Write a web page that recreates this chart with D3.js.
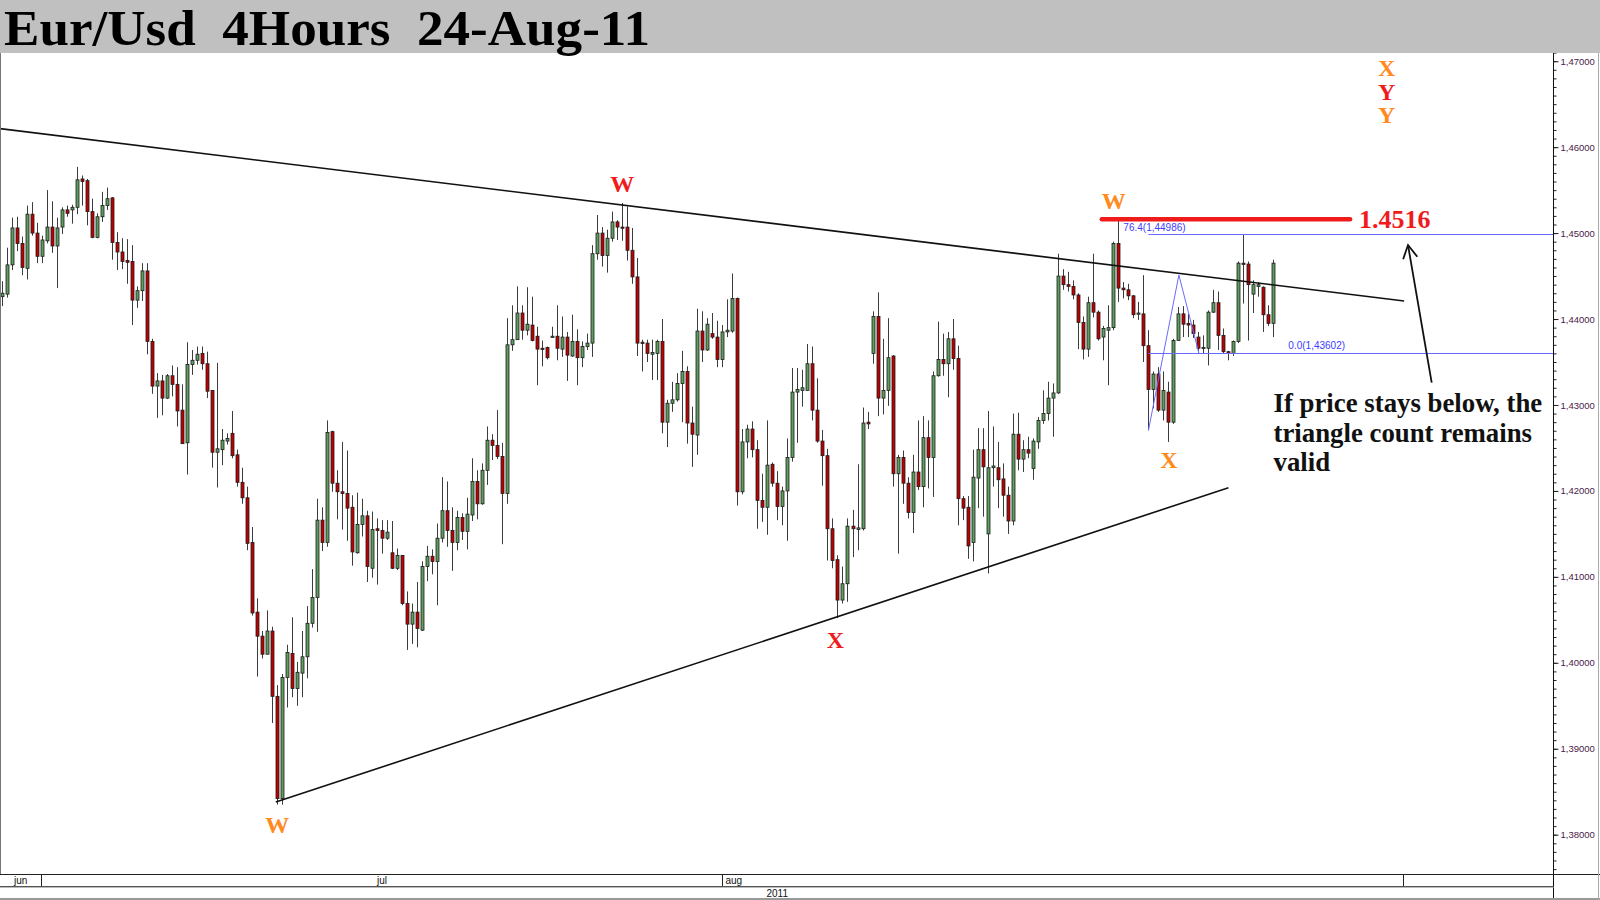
<!DOCTYPE html>
<html><head><meta charset="utf-8">
<script src="https://cdn.jsdelivr.net/npm/d3@7"></script>
<style>
html,body{margin:0;padding:0;background:#fff;}
svg{display:block;}
</style></head>
<body>
<svg id="chart" width="1600" height="900"></svg>
<script>
// ---------------- DATA (EUR/USD 4h) ----------------
const opens = [1.4426,1.4429,1.4463,1.4506,1.4488,1.4459,1.4522,1.4500,1.4473,1.4491,
1.4507,1.4485,1.4507,1.4527,1.4527,1.4530,1.4563,1.4561,1.4525,1.4495,
1.4519,1.4532,1.4541,1.4489,1.4478,1.4468,1.4467,1.4422,1.4433,1.4456,
1.4374,1.4322,1.4328,1.4308,1.4334,1.4324,1.4294,1.4256,1.4347,1.4352,
1.4360,1.4348,1.4317,1.4245,1.4248,1.4258,1.4267,1.4242,1.4210,1.4192,
1.4140,1.4059,1.4031,1.4010,1.4037,1.3961,1.3842,1.3983,1.4011,1.3970,
1.3988,1.4007,1.4046,1.4076,1.4166,1.4140,1.4269,1.4209,1.4199,1.4197,
1.4181,1.4128,1.4161,1.4171,1.4110,1.4156,1.4154,1.4145,1.4128,1.4110,
1.4125,1.4069,1.4045,1.4059,1.4038,1.4112,1.4124,1.4118,1.4145,1.4177,
1.4154,1.4140,1.4169,1.4153,1.4172,1.4211,1.4185,1.4224,1.4259,1.4253,
1.4240,1.4197,1.4370,1.4376,1.4407,1.4387,1.4393,1.4380,1.4366,1.4367,
1.4379,1.4380,1.4365,1.4379,1.4357,1.4374,1.4355,1.4368,1.4372,1.4476,
1.4500,1.4474,1.4494,1.4513,1.4507,1.4507,1.4480,1.4449,1.4373,1.4372,
1.4359,1.4360,1.4374,1.4280,1.4302,1.4306,1.4325,1.4339,1.4279,1.4265,
1.4386,1.4364,1.4383,1.4379,1.4353,1.4385,1.4386,1.4424,1.4199,1.4257,
1.4272,1.4248,1.4189,1.4181,1.4231,1.4209,1.4182,1.4200,1.4239,1.4315,
1.4317,1.4317,1.4348,1.4294,1.4258,1.4241,1.4156,1.4120,1.4073,1.4092,
1.4159,1.4155,1.4156,1.4280,1.4360,1.4403,1.4308,1.4317,1.4357,1.4220,
1.4239,1.4209,1.4175,1.4222,1.4205,1.4262,1.4239,1.4334,1.4353,1.4348,
1.4377,1.4354,1.4191,1.4181,1.4140,1.4215,1.4248,1.4150,1.4227,1.4227,
1.4214,1.4195,1.4165,1.4266,1.4237,1.4248,1.4226,1.4257,1.4282,1.4290,
1.4308,1.4314,1.4450,1.4440,1.4438,1.4428,1.4396,1.4365,1.4419,1.4408,
1.4379,1.4387,1.4390,1.4488,1.4436,1.4434,1.4427,1.4406,1.4406,1.4369,
1.4318,1.4336,1.4294,1.4315,1.4280,1.4375,1.4406,1.4395,1.4393,1.4379,
1.4366,1.4366,1.4408,1.4419,1.4381,1.4362,1.4360,1.4374,1.4465,1.4464,
1.4429,1.4438,1.4437,1.4405,1.4395];
const highs = [1.4444,1.4483,1.4518,1.4519,1.4496,1.4532,1.4536,1.4512,1.4497,1.4550,
1.4537,1.4518,1.4530,1.4532,1.4533,1.4577,1.4567,1.4563,1.4540,1.4523,
1.4548,1.4553,1.4542,1.4501,1.4494,1.4493,1.4486,1.4438,1.4465,1.4465,
1.4377,1.4337,1.4335,1.4336,1.4346,1.4344,1.4324,1.4373,1.4364,1.4368,
1.4368,1.4362,1.4317,1.4349,1.4272,1.4267,1.4293,1.4248,1.4227,1.4205,
1.4158,1.4075,1.4037,1.4061,1.4042,1.3974,1.3987,1.4021,1.4053,1.4001,
1.4037,1.4066,1.4109,1.4191,1.4181,1.4282,1.4270,1.4224,1.4257,1.4247,
1.4195,1.4198,1.4191,1.4177,1.4176,1.4168,1.4166,1.4166,1.4165,1.4133,
1.4125,1.4083,1.4069,1.4094,1.4118,1.4136,1.4132,1.4162,1.4216,1.4211,
1.4181,1.4177,1.4174,1.4192,1.4238,1.4224,1.4232,1.4275,1.4266,1.4294,
1.4256,1.4401,1.4416,1.4438,1.4416,1.4437,1.4426,1.4391,1.4375,1.4368,
1.4391,1.4416,1.4403,1.4385,1.4405,1.4388,1.4374,1.4383,1.4486,1.4521,
1.4507,1.4504,1.4525,1.4515,1.4535,1.4531,1.4506,1.4471,1.4376,1.4376,
1.4376,1.4376,1.4400,1.4306,1.4327,1.4337,1.4363,1.4345,1.4298,1.4412,
1.4409,1.4401,1.4407,1.4398,1.4393,1.4423,1.4453,1.4425,1.4272,1.4277,
1.4281,1.4259,1.4220,1.4282,1.4233,1.4223,1.4205,1.4261,1.4343,1.4343,
1.4341,1.4371,1.4368,1.4331,1.4271,1.4249,1.4168,1.4125,1.4112,1.4168,
1.4178,1.4231,1.4297,1.4292,1.4409,1.4431,1.4377,1.4401,1.4358,1.4242,
1.4247,1.4216,1.4242,1.4282,1.4287,1.4282,1.4339,1.4397,1.4383,1.4385,
1.4400,1.4369,1.4194,1.4194,1.4248,1.4273,1.4273,1.4293,1.4275,1.4257,
1.4232,1.4205,1.4290,1.4291,1.4259,1.4263,1.4261,1.4286,1.4317,1.4327,
1.4325,1.4476,1.4458,1.4455,1.4445,1.4430,1.4403,1.4426,1.4476,1.4410,
1.4392,1.4416,1.4490,1.4515,1.4443,1.4441,1.4428,1.4420,1.4451,1.4387,
1.4339,1.4344,1.4339,1.4327,1.4377,1.4414,1.4415,1.4406,1.4399,1.4385,
1.4381,1.4410,1.4434,1.4432,1.4389,1.4363,1.4375,1.4467,1.4499,1.4467,
1.4445,1.4443,1.4438,1.4416,1.4469];
const lows = [1.4415,1.4425,1.4457,1.4479,1.4451,1.4446,1.4497,1.4465,1.4465,1.4488,
1.4477,1.4436,1.4499,1.4519,1.4511,1.4522,1.4532,1.4509,1.4494,1.4494,
1.4513,1.4527,1.4469,1.4457,1.4458,1.4441,1.4393,1.4413,1.4421,1.4359,
1.4313,1.4285,1.4288,1.4307,1.4310,1.4275,1.4255,1.4219,1.4335,1.4347,
1.4341,1.4308,1.4227,1.4204,1.4230,1.4254,1.4238,1.4205,1.4185,1.4131,
1.4055,1.3984,1.4005,1.4010,1.3930,1.3835,1.3835,1.3948,1.3960,1.3950,
1.3960,1.3982,1.4041,1.4036,1.4130,1.4135,1.4199,1.4167,1.4155,1.4142,
1.4113,1.4127,1.4147,1.4094,1.4099,1.4091,1.4127,1.4143,1.4109,1.4108,
1.4067,1.4015,1.4022,1.4018,1.4037,1.4095,1.4103,1.4067,1.4140,1.4135,
1.4107,1.4131,1.4143,1.4132,1.4165,1.4167,1.4184,1.4207,1.4236,1.4237,
1.4138,1.4185,1.4363,1.4376,1.4376,1.4381,1.4374,1.4323,1.4345,1.4353,
1.4379,1.4352,1.4356,1.4328,1.4356,1.4323,1.4344,1.4364,1.4356,1.4469,
1.4461,1.4454,1.4490,1.4492,1.4491,1.4468,1.4441,1.4357,1.4339,1.4350,
1.4329,1.4329,1.4267,1.4251,1.4292,1.4304,1.4280,1.4255,1.4228,1.4242,
1.4350,1.4363,1.4377,1.4344,1.4344,1.4379,1.4384,1.4183,1.4196,1.4238,
1.4239,1.4156,1.4164,1.4149,1.4205,1.4166,1.4160,1.4142,1.4234,1.4256,
1.4298,1.4317,1.4282,1.4256,1.4206,1.4119,1.4110,1.4052,1.4069,1.4071,
1.4123,1.4131,1.4154,1.4272,1.4348,1.4287,1.4289,1.4299,1.4205,1.4127,
1.4185,1.4168,1.4151,1.4201,1.4181,1.4203,1.4193,1.4333,1.4334,1.4309,
1.4341,1.4160,1.4166,1.4121,1.4118,1.4180,1.4170,1.4104,1.4205,1.4180,
1.4170,1.4150,1.4160,1.4224,1.4222,1.4238,1.4213,1.4249,1.4278,1.4282,
1.4263,1.4313,1.4434,1.4432,1.4423,1.4365,1.4353,1.4356,1.4402,1.4375,
1.4352,1.4323,1.4387,1.4420,1.4424,1.4422,1.4401,1.4399,1.4350,1.4272,
1.4296,1.4292,1.4282,1.4257,1.4278,1.4375,1.4379,1.4379,1.4378,1.4361,
1.4360,1.4346,1.4407,1.4364,1.4360,1.4352,1.4357,1.4372,1.4418,1.4375,
1.4407,1.4426,1.4385,1.4392,1.4379];
const closes = [1.4430,1.4463,1.4506,1.4488,1.4460,1.4522,1.4500,1.4473,1.4492,1.4507,
1.4485,1.4506,1.4527,1.4523,1.4530,1.4562,1.4560,1.4525,1.4495,1.4519,
1.4532,1.4540,1.4489,1.4478,1.4467,1.4466,1.4422,1.4433,1.4456,1.4374,
1.4322,1.4328,1.4308,1.4334,1.4324,1.4293,1.4255,1.4347,1.4352,1.4359,
1.4348,1.4316,1.4245,1.4249,1.4259,1.4261,1.4241,1.4210,1.4192,1.4139,
1.4058,1.4031,1.4010,1.4037,1.3961,1.3842,1.3983,1.4012,1.3970,1.3989,
1.4007,1.4046,1.4076,1.4166,1.4140,1.4268,1.4209,1.4199,1.4197,1.4180,
1.4129,1.4161,1.4171,1.4112,1.4155,1.4154,1.4145,1.4152,1.4110,1.4125,
1.4069,1.4045,1.4059,1.4040,1.4112,1.4124,1.4118,1.4145,1.4177,1.4154,
1.4140,1.4169,1.4153,1.4173,1.4211,1.4185,1.4224,1.4259,1.4253,1.4240,
1.4197,1.4370,1.4376,1.4407,1.4387,1.4394,1.4375,1.4365,1.4365,1.4355,
1.4380,1.4366,1.4379,1.4358,1.4374,1.4355,1.4368,1.4372,1.4476,1.4500,
1.4474,1.4494,1.4513,1.4507,1.4506,1.4480,1.4449,1.4372,1.4372,1.4360,
1.4361,1.4374,1.4280,1.4302,1.4306,1.4325,1.4339,1.4279,1.4266,1.4386,
1.4364,1.4394,1.4379,1.4353,1.4385,1.4387,1.4424,1.4199,1.4257,1.4272,
1.4248,1.4189,1.4181,1.4230,1.4209,1.4182,1.4200,1.4239,1.4315,1.4318,
1.4320,1.4348,1.4294,1.4258,1.4241,1.4156,1.4119,1.4073,1.4092,1.4159,
1.4156,1.4157,1.4279,1.4278,1.4403,1.4308,1.4317,1.4355,1.4220,1.4239,
1.4209,1.4175,1.4222,1.4205,1.4262,1.4239,1.4334,1.4353,1.4348,1.4377,
1.4354,1.4191,1.4180,1.4136,1.4216,1.4248,1.4228,1.4227,1.4229,1.4213,
1.4195,1.4165,1.4266,1.4237,1.4248,1.4244,1.4258,1.4282,1.4290,1.4308,
1.4314,1.4450,1.4440,1.4438,1.4428,1.4396,1.4365,1.4419,1.4408,1.4377,
1.4389,1.4390,1.4488,1.4436,1.4434,1.4427,1.4405,1.4407,1.4369,1.4318,
1.4336,1.4294,1.4317,1.4280,1.4375,1.4406,1.4394,1.4393,1.4383,1.4366,
1.4367,1.4408,1.4419,1.4381,1.4362,1.4360,1.4374,1.4465,1.4464,1.4440,
1.4440,1.4440,1.4405,1.4395,1.4465];

const title = "Eur/Usd  4Hours  24-Aug-11";
const priceTicks = [1.38,1.39,1.40,1.41,1.42,1.43,1.44,1.45,1.46,1.47];
const monthLabels = ["jun","jul","aug"];
const monthStarts = [0, 8, 144];     // bar index where each month begins
const nextMonthStart = 280;          // (sep) beyond last bar
const yearLabel = "2011";

// trendlines: [barIndex, price]
const upperTrend = [[-0.3, 1.46216],[280.2, 1.44210]];
const lowerTrend = [[54.8, 1.38380],[245.1, 1.42037]];
// blue zigzag (fibonacci tool)
const fibZigzag = [[229.1, 1.42700],[235.2, 1.44512],[239.2, 1.43602]];
const fibLevels = [{lvl:"76.4", price:1.44986, from:229.1},{lvl:"0.0", price:1.43602, from:229.1}];
// red target line
const targetPrice = 1.4516, targetFrom = 219.8, targetTo = 269.4;
// wave labels: text, bar index, baseline price, colour
const waveLabels = [
  {t:"W", i:55.1,  p:1.38025, c:"orange"},
  {t:"W", i:124.0, p:1.45481, c:"red"},
  {t:"X", i:166.6, p:1.40172, c:"red"},
  {t:"W", i:222.2, p:1.45280, c:"orange"},
  {t:"X", i:233.2, p:1.42267, c:"orange"},
  {t:"X", i:276.7, p:1.46823, c:"orange"},
  {t:"Y", i:276.7, p:1.46551, c:"red"},
  {t:"Y", i:276.7, p:1.46277, c:"orange"}
];
const noteLines = ["If price stays below, the","triangle count remains","valid"];
const noteAnchor = [254.1, 1.42918];
const arrowPts = [[285.7, 1.43259],[280.97, 1.44861]];

// ---------------- LAYOUT ----------------
const W = 1600, H = 900;
const titleH = 53, plotBottom = 874, axisX = 1553.5;
const COL = {up:"#5e9e5e", down:"#c00000", edge:"#1c1c1c", wick:"#3c3c3c",
  red:"#f01c1c", orange:"#ff8a1e", blue:"#6a6aff", blueText:"#3c3cff", axisText:"#4a1a4a"};

const svg = d3.select("#chart");
const x = d3.scaleLinear().domain([0, 254]).range([1.5, 1273]);
const y = d3.scaleLinear().domain([1.38, 1.47]).range([834.7, 61.2]);

svg.append("rect").attr("width",W).attr("height",H).attr("fill","#fff");

// clip for plot
svg.append("defs").append("clipPath").attr("id","plotclip")
  .append("rect").attr("x",0).attr("y",titleH).attr("width",axisX).attr("height",plotBottom-titleH);
const plot = svg.append("g").attr("clip-path","url(#plotclip)");

// candles
const bars = d3.range(opens.length).map(i => ({i, o:opens[i], h:highs[i], l:lows[i], c:closes[i]}));
const cg = plot.append("g");
cg.selectAll("line.wick").data(bars).join("line")
  .attr("x1", d => Math.round(x(d.i))+0.5).attr("x2", d => Math.round(x(d.i))+0.5)
  .attr("y1", d => y(d.h)).attr("y2", d => y(d.l))
  .attr("stroke", COL.wick).attr("stroke-width",1);
cg.selectAll("rect.body").data(bars).join("rect")
  .attr("x", d => Math.round(x(d.i))-1)
  .attr("width", 3)
  .attr("y", d => y(Math.max(d.o,d.c)))
  .attr("height", d => Math.max(1.2, Math.abs(y(d.o)-y(d.c))))
  .attr("fill", d => d.c >= d.o ? COL.up : COL.down)
  .attr("stroke", COL.edge).attr("stroke-width",0.8);

// trendlines
const line = d3.line().x(d => x(d[0])).y(d => y(d[1]));
plot.append("path").attr("d", line(upperTrend)).attr("stroke","#111").attr("stroke-width",1.6).attr("fill","none");
plot.append("path").attr("d", line(lowerTrend)).attr("stroke","#111").attr("stroke-width",1.6).attr("fill","none");

// fib
plot.append("path").attr("d", line(fibZigzag)).attr("stroke",COL.blue).attr("stroke-width",1).attr("fill","none");
fibLevels.forEach(f => {
  plot.append("line").attr("x1", x(f.from)).attr("x2", axisX)
    .attr("y1", Math.round(y(f.price))+0.5).attr("y2", Math.round(y(f.price))+0.5)
    .attr("stroke", COL.blue).attr("stroke-width",1);
});
const fmt5 = d3.formatLocale({decimal:",", thousands:".", grouping:[3], currency:["",""]}).format(".5f");
plot.append("text").attr("x", x(fibLevels[0].from)-25).attr("y", y(fibLevels[0].price)-3)
  .attr("font-family","Liberation Sans, Arial, sans-serif").attr("font-size",10).attr("fill",COL.blueText)
  .text(fibLevels[0].lvl + "(" + fmt5(fibLevels[0].price) + ")");
plot.append("text").attr("x", x(fibLevels[1].from)+140).attr("y", y(fibLevels[1].price)-4)
  .attr("font-family","Liberation Sans, Arial, sans-serif").attr("font-size",10).attr("fill",COL.blueText)
  .text(fibLevels[1].lvl + "(" + fmt5(fibLevels[1].price) + ")");

// target line
plot.append("line").attr("x1", x(targetFrom)).attr("x2", x(targetTo))
  .attr("y1", y(targetPrice)).attr("y2", y(targetPrice))
  .attr("stroke", COL.red).attr("stroke-width",4.5).attr("stroke-linecap","round");
plot.append("text").attr("x", x(targetTo)+9).attr("y", y(targetPrice)+9)
  .attr("font-family","Liberation Serif, Times New Roman, serif").attr("font-weight","bold")
  .attr("font-size",26).attr("fill",COL.red).text(d3.format(".4f")(targetPrice));

// wave labels
plot.selectAll("text.wave").data(waveLabels).join("text")
  .attr("x", d => x(d.i)).attr("y", d => y(d.p)).attr("text-anchor","middle")
  .attr("font-family","Liberation Serif, Times New Roman, serif").attr("font-weight","bold")
  .attr("font-size",24).attr("fill", d => d.c === "red" ? COL.red : COL.orange).text(d => d.t);

// note
const note = plot.append("text").attr("font-family","Liberation Serif, Times New Roman, serif")
  .attr("font-weight","bold").attr("font-size",26.8).attr("fill","#111");
noteLines.forEach((t,k) => note.append("tspan").attr("x", x(noteAnchor[0])).attr("y", y(noteAnchor[1]) + k*29.5).text(t));

// arrow
const a0 = [x(arrowPts[0][0]), y(arrowPts[0][1])], a1 = [x(arrowPts[1][0]), y(arrowPts[1][1])];
plot.append("line").attr("x1",a0[0]).attr("y1",a0[1]).attr("x2",a1[0]).attr("y2",a1[1])
  .attr("stroke","#111").attr("stroke-width",1.8);
{
  const dx = a1[0]-a0[0], dy = a1[1]-a0[1], L = Math.hypot(dx,dy), ux = dx/L, uy = dy/L;
  const hl = 15, ang = 0.5;
  const p1 = [a1[0] - hl*(ux*Math.cos(ang) - uy*Math.sin(ang)), a1[1] - hl*(uy*Math.cos(ang) + ux*Math.sin(ang))];
  const p2 = [a1[0] - hl*(ux*Math.cos(-ang) - uy*Math.sin(-ang)), a1[1] - hl*(uy*Math.cos(-ang) + ux*Math.sin(-ang))];
  plot.append("path").attr("d", `M${p1}L${a1}L${p2}`).attr("stroke","#111").attr("stroke-width",1.8).attr("fill","none");
}

// left border
svg.append("line").attr("x1",0.5).attr("x2",0.5).attr("y1",titleH).attr("y2",plotBottom).attr("stroke","#777");

// right axis
const axG = svg.append("g").attr("transform",`translate(${axisX},0)`);
const minor = d3.range(1376, 1475).map(v => v/1000);
axG.call(d3.axisRight(y).tickValues(minor).tickSize(3).tickFormat(""))
  .call(g => g.select(".domain").remove())
  .call(g => g.selectAll("line").attr("stroke","#222"));
const major = axG.append("g").call(d3.axisRight(y).tickValues(priceTicks).tickSize(5).tickFormat(fmt5));
major.select(".domain").remove();
major.selectAll("line").attr("stroke","#222");
major.selectAll("text").attr("font-family","Liberation Sans, Arial, sans-serif").attr("font-size",9.5)
  .attr("fill",COL.axisText).attr("x",7);
svg.append("line").attr("x1",axisX).attr("x2",axisX).attr("y1",titleH).attr("y2",H-2).attr("stroke","#111");

// bottom time strip
svg.append("line").attr("x1",0).attr("x2",W).attr("y1",plotBottom+0.5).attr("y2",plotBottom+0.5).attr("stroke","#222");
svg.append("line").attr("x1",0).attr("x2",axisX).attr("y1",886.5).attr("y2",886.5).attr("stroke","#555");
svg.append("line").attr("x1",0).attr("x2",axisX).attr("y1",887.5).attr("y2",887.5).attr("stroke","#bbb");
const sepX = s => Math.round(x(s)-0.5)+0.5;
const seps = monthStarts.slice(1).concat([nextMonthStart]);
seps.forEach(s => svg.append("line").attr("x1",sepX(s)).attr("x2",sepX(s)).attr("y1",plotBottom).attr("y2",886).attr("stroke","#222"));
const tfont = "Liberation Sans Narrow, Arial Narrow, Liberation Sans, Arial, sans-serif";
monthLabels.forEach((m,k) => {
  const left = k === 0 ? 0 : sepX(monthStarts[k]);
  const right = k < monthLabels.length-1 ? sepX(monthStarts[k+1]) : null;
  const t = svg.append("text").attr("y",884).attr("font-family",tfont).attr("font-size",10).attr("fill","#111").text(m);
  if (right !== null) t.attr("x",(left+right)/2).attr("text-anchor","middle");
  else t.attr("x",left+3);
});
svg.append("text").attr("x",788).attr("y",897).attr("text-anchor","end").attr("font-family",tfont)
  .attr("font-size",10).attr("fill","#111").text(yearLabel);
svg.append("rect").attr("x",0).attr("y",898).attr("width",W).attr("height",2).attr("fill","#999");
svg.append("line").attr("x1",W-1.5).attr("x2",W-1.5).attr("y1",titleH).attr("y2",H).attr("stroke","#aaa");

// title bar
svg.append("rect").attr("x",0).attr("y",0).attr("width",W).attr("height",titleH).attr("fill","#c0c0c0");
svg.append("text").attr("x",4).attr("y",45).attr("font-family","Liberation Serif, Times New Roman, serif")
  .attr("font-weight","bold").attr("font-size",50).attr("fill","#000").style("white-space","pre")
  .attr("textLength",646).attr("lengthAdjust","spacingAndGlyphs").text(title);
</script>
</body></html>
